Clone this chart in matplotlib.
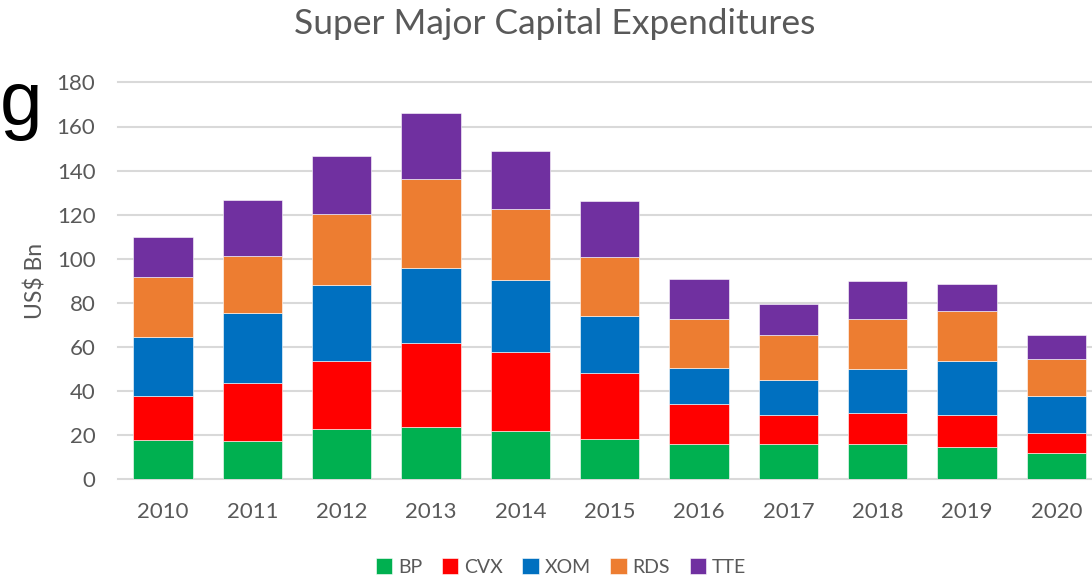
import numpy as np
import matplotlib.pyplot as plt

years = ["2010", "2011", "2012", "2013", "2014", "2015",
         "2016", "2017", "2018", "2019", "2020"]
companies = ["BP", "CVX", "XOM", "RDS", "TTE"]

bp = [17.8, 17.2, 22.7, 23.9, 22.0, 18.4, 16.0, 16.0, 16.0, 14.8, 11.8]
cvx = [20.1, 26.6, 30.8, 38.0, 35.7, 29.7, 18.1, 13.3, 13.9, 14.5, 9.1]
xom = [26.6, 31.5, 34.5, 33.9, 32.7, 26.0, 16.4, 15.7, 20.0, 24.2, 16.9]
rds = [27.1, 26.0, 32.5, 40.4, 32.0, 26.6, 22.3, 20.6, 22.9, 23.0, 16.9]
tte = [18.1, 25.4, 26.0, 29.8, 26.6, 25.4, 18.2, 13.9, 17.0, 12.1, 10.9]

colors = ["#00B050", "#FF0000", "#0070C0", "#ED7D31", "#7030A0"]
grey = "#595959"
font = ["Lato", "DejaVu Sans"]

fig = plt.figure(figsize=(10.92, 5.78), dpi=100)
# the plot area runs slightly past the right edge of the picture
ax = fig.add_axes([118.3 / 1092, 98.7 / 578, 982.7 / 1092, 396.9 / 578])

x = np.arange(len(years))
bottom = np.zeros(len(years))
for name, vals, c in zip(companies, [bp, cvx, xom, rds, tte], colors):
    ax.bar(x, vals, width=0.664, bottom=bottom, color=c, label=name,
           edgecolor="white", linewidth=0.4, zorder=3)
    bottom += np.array(vals)

ax.set_xlim(-0.5, len(years) - 0.5)
ax.set_ylim(0, 180)
ax.set_yticks(np.arange(0, 181, 20))
ax.set_xticks(x)
ax.set_xticklabels(years)
ax.grid(axis="y", color="#D9D9D9", linewidth=1.5, zorder=0, clip_on=False)
for s in ax.spines.values():
    s.set_visible(False)
ax.tick_params(length=0, labelcolor=grey, labelsize=16)
ax.tick_params(axis="y", pad=16.5)
ax.tick_params(axis="x", pad=16)
for lbl in ax.get_xticklabels() + ax.get_yticklabels():
    lbl.set_family(font)

ax.set_ylabel("US$ Bn", color=grey, fontsize=16.5, family=font, labelpad=7)

fig.text(555 / 1092, 1 - 24 / 578, "Super Major Capital Expenditures",
         ha="center", va="center", color=grey, fontsize=25.5, family=font)

# stray glyph at the left edge
fig.text(0, 1 - 125 / 578, "g", ha="left", va="baseline", color="black",
         fontsize=55, family=["Liberation Sans", "DejaVu Sans"])

fig.legend(loc="center", bbox_to_anchor=(561 / 1092, 1 - 567 / 578), ncol=5,
           frameon=False, prop={"family": font, "size": 14},
           labelcolor=grey, handlelength=0.85, handleheight=0.85,
           handletextpad=0.3, columnspacing=1.0)

fig.savefig("out.png", dpi=100)
